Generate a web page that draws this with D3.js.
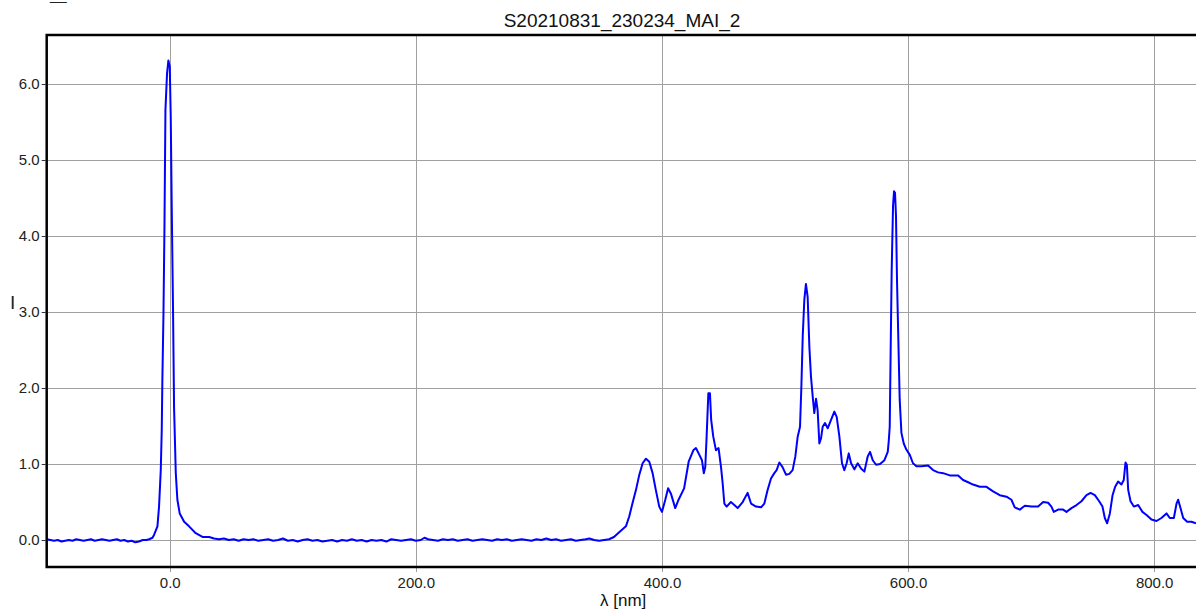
<!DOCTYPE html>
<html>
<head>
<meta charset="utf-8">
<script src="https://cdn.jsdelivr.net/npm/d3@7"></script>
<style>
  html, body { margin: 0; padding: 0; background: #fff; overflow: hidden; }
  svg { display: block; font-family: "Liberation Sans", Arial, sans-serif; }
</style>
</head>
<body>
<svg id="chart" width="1196" height="614"></svg>
<script>
// ---- data ----
const title = "S20210831_230234_MAI_2";
const xLabel = "λ [nm]";
const yLabel = "I";
const cornerText = "__";
const xTicks = [0, 200, 400, 600, 800];
const yTicks = [0, 1, 2, 3, 4, 5, 6];

// wavelength (nm)
const lambda = [
  -100,-97,-94,-91,-88,-85,-82,-79,-76,-73,-70,-67,-64,-61,-58,-55,-52,-49,-46,-43,-40,-37,-34,-31,-28,-25,-22,-19,-16.8,-14,
  -12.7,-10,-8.7,-7.3,-6.5,-6,-5.1,-4.3,-3.5,-2.2,-1.1,0,0.8,1.6,2.7,3.5,4.9,6.2,8.1,11.7,15.7,21.1,26.6,32,
  36,40,44,48,52,56,60,64,68,72,76,80,84,88,92,96,100,104,108,112,116,120,124,128,132,136,140,144,148,152,156,160,
  164,168,172,176,180,184,188,192,196,200,204,207,210,214,218,222,226,230,234,238,242,246,250,254,258,262,266,270,
  274,278,282,286,290,294,298,302,306,310,314,318,322,326,330,334,338,341,345,349,353,357,361,365,370.7,373.4,376,
  378.9,381.6,384.3,387,389.7,392.4,395,397.8,400,402.7,405,407.3,410.8,413.5,418,421.7,425.5,427.6,430.4,432.5,434,
  435.2,436.3,437.7,439,440,441.7,443.9,446,448,449.3,450.7,452.6,456,458.8,461.5,465.6,469.6,472.4,476.4,480.5,483.2,
  485.9,488.6,491.3,493.2,495.4,498,500.8,503.5,506.2,508.4,510.3,512.2,513.3,514.4,515.7,517,518.4,519.8,521.1,522.5,
  523.8,525.2,526.5,527.9,529.3,530.6,532.5,534.7,537.4,540.1,542,544.2,546.3,548.2,550.1,551.8,553.7,556.4,559.1,
  561.8,564.5,567.2,569.1,571.3,574,577.2,580.8,583.5,584.3,585.1,585.9,586.7,587.8,588.6,589.4,590.2,591,592.1,593.2,
  594.6,596.5,598.6,601.4,604,606.8,610.8,616.3,620.3,624.4,628.5,633.9,640.7,644.7,648.8,652.8,658.3,663.7,669.1,
  674.5,680,684,686.7,690.8,694.9,700.3,705.7,709.8,713.8,716.5,718.4,722,726,728.7,732.8,736.9,740.9,745,748.3,
  751.8,755.3,758,759.9,761.8,764,766.2,768.3,770.7,773.4,775.3,776.7,777.8,778.9,780.8,783.5,787,790.5,793.8,797.8,
  801.9,805.9,810,812.7,816,818.2,819.5,821.4,823.6,826.8,830.3,834
];

// intensity I
const intensity = [
  0.01,0.00,-0.01,0.00,-0.02,-0.01,0.00,-0.01,0.01,0.00,-0.01,0.00,0.01,-0.01,0.00,0.01,0.00,-0.01,0.00,0.01,-0.01,0.00,-0.02,-0.01,-0.03,-0.02,0.00,0.00,0.01,0.03,
  0.07,0.18,0.44,0.92,1.45,2.11,2.98,4.12,5.66,6.14,6.31,6.23,5.57,4.39,2.98,1.75,0.88,0.53,0.35,0.24,0.18,0.09,0.04,0.04,
  0.02,0.01,0.02,0.00,0.01,-0.01,0.01,0.00,0.01,-0.01,0.00,0.01,-0.01,0.00,0.02,-0.01,0.00,-0.02,0.00,0.01,-0.01,0.00,-0.02,-0.01,0.00,-0.02,0.00,-0.01,0.01,-0.01,0.00,-0.02,
  0.00,-0.01,0.00,-0.02,0.01,0.00,-0.01,0.00,0.01,-0.01,0.00,0.03,0.01,0.00,-0.01,0.01,0.00,0.01,-0.01,0.00,0.01,-0.01,0.00,0.01,0.00,-0.01,0.01,0.00,
  0.01,-0.01,0.00,0.01,0.00,-0.01,0.01,0.00,0.02,0.00,0.01,-0.01,0.00,0.01,-0.01,0.00,0.01,0.02,0.00,-0.01,0.00,0.01,0.04,0.10,0.18,0.31,0.48,
  0.66,0.86,1.01,1.07,1.03,0.88,0.66,0.44,0.37,0.53,0.68,0.61,0.42,0.53,0.68,1.03,1.18,1.21,1.12,1.05,0.88,
  0.96,1.36,1.93,1.93,1.58,1.36,1.18,1.21,0.96,0.75,0.48,0.44,0.50,0.46,0.42,0.50,0.62,0.48,0.44,0.43,0.48,
  0.66,0.81,0.88,0.92,1.02,0.96,0.86,0.87,0.92,1.10,1.36,1.49,2.02,2.68,3.16,3.37,3.20,2.54,2.15,1.89,
  1.67,1.86,1.71,1.27,1.34,1.49,1.54,1.47,1.58,1.69,1.62,1.36,1.01,0.92,1.01,1.14,1.01,0.93,1.01,
  0.94,0.90,1.10,1.16,1.05,0.99,1.00,1.05,1.16,1.30,1.49,2.55,3.56,4.40,4.59,4.57,4.26,3.43,2.64,1.85,
  1.41,1.27,1.19,1.12,1.01,0.97,0.97,0.98,0.92,0.89,0.88,0.85,0.85,0.79,0.76,0.73,0.70,0.70,0.64,
  0.59,0.57,0.53,0.43,0.40,0.45,0.44,0.44,0.50,0.49,0.44,0.37,0.40,0.40,0.37,0.42,0.46,0.51,0.59,0.62,
  0.59,0.51,0.44,0.29,0.22,0.35,0.59,0.70,0.77,0.73,0.79,1.02,0.99,0.66,0.51,0.44,0.46,0.37,0.33,0.27,
  0.25,0.29,0.35,0.29,0.29,0.48,0.53,0.42,0.29,0.24,0.24,0.22
];

// ---- layout ----
const svg = d3.select("#chart");
const PL = 46.7, PR = 1196, PT = 35, PB = 567;

const x = d3.scaleLinear().domain([-100, 834]).range([PL, PR]);
const y = d3.scaleLinear().domain([-0.355, 6.645]).range([PB, PT]);

const n = Math.min(lambda.length, intensity.length);
const pts = d3.range(n).map(i => [lambda[i], intensity[i]]);

// grid
svg.append("g")
  .selectAll("line").data(yTicks).join("line")
  .attr("x1", PL).attr("x2", PR)
  .attr("y1", d => Math.round(y(d)) + 0.5).attr("y2", d => Math.round(y(d)) + 0.5)
  .attr("stroke", "#a0a0a0").attr("stroke-width", 1);
svg.append("g")
  .selectAll("line").data(xTicks).join("line")
  .attr("y1", PT).attr("y2", PB + 5)
  .attr("x1", d => Math.round(x(d)) + 0.5).attr("x2", d => Math.round(x(d)) + 0.5)
  .attr("stroke", "#a0a0a0").attr("stroke-width", 1);

// axes (labels via d3 axes)
const xAxis = d3.axisBottom(x).tickValues(xTicks).tickFormat(d3.format(".1f")).tickSize(0).tickPadding(10);
const yAxis = d3.axisLeft(y).tickValues(yTicks).tickFormat(d3.format(".1f")).tickSize(4).tickPadding(2);

const gx = svg.append("g").attr("transform", `translate(0,${PB})`).call(xAxis);
gx.select(".domain").remove();
gx.selectAll("text").attr("font-size", 15).attr("fill", "#222").attr("font-family", "Liberation Sans, Arial, sans-serif");

const gy = svg.append("g").attr("transform", `translate(${PL - 1},0)`).call(yAxis);
gy.select(".domain").remove();
gy.selectAll("line").attr("stroke", "#333");
gy.selectAll("text").attr("font-size", 15).attr("fill", "#222").attr("font-family", "Liberation Sans, Arial, sans-serif");

// data line
svg.append("path")
  .datum(pts)
  .attr("fill", "none")
  .attr("stroke", "#0000ff")
  .attr("stroke-width", 2)
  .attr("stroke-linejoin", "round")
  .attr("d", d3.line().x(d => x(d[0])).y(d => y(d[1])));

// frame
svg.append("path")
  .attr("d", `M${PR + 5},${PT} H${PL} V${PB} H${PR + 5}`)
  .attr("fill", "none").attr("stroke", "#000").attr("stroke-width", 2.5);

// titles
svg.append("text").attr("x", 622).attr("y", 27).attr("text-anchor", "middle")
  .attr("font-size", 19).attr("fill", "#111").text(title);
svg.append("text").attr("x", 600).attr("y", 606)
  .attr("font-size", 17).attr("fill", "#111").text(xLabel);
svg.append("text").attr("x", 10).attr("y", 309)
  .attr("font-size", 19).attr("fill", "#222").text(yLabel);
svg.append("text").attr("x", 50).attr("y", 0)
  .attr("font-size", 15).attr("fill", "#222").text(cornerText);
</script>
</body>
</html>
